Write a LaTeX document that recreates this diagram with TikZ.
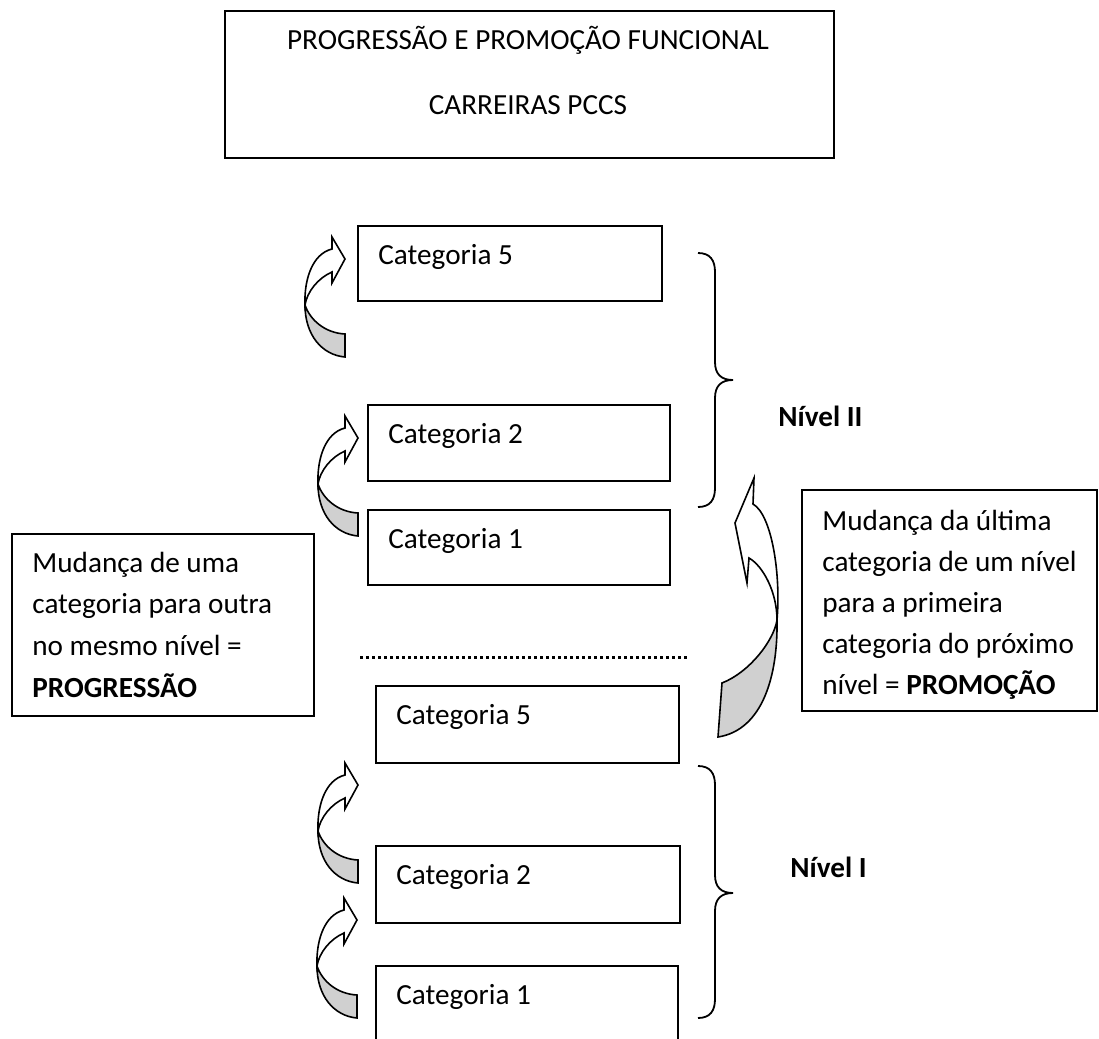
\documentclass[tikz,border=0pt]{standalone}
\usepackage{fontspec}
\setmainfont{Carlito}
\definecolor{shade}{RGB}{208,208,208}
\newcommand\fs{\fontsize{14.6pt}{17pt}\selectfont}
\newcommand\progarrow[1]{%
\begin{scope}[shift={#1}]
 \filldraw[arrowline, fill=shade] (-40,46) .. controls (-40,76) and (-23,96) .. (0,98) -- (0,75) .. controls (-20,74) and (-35,61) .. (-40,46) -- cycle;
 \filldraw[arrowline, fill=white] (-40,46) .. controls (-41,21) and (-33,-5) .. (-13,-10) -- (-13,-22) -- (0,0) -- (-13,24) -- (-13,13) .. controls (-27,19) and (-38,33) .. (-40,46) -- cycle;
\end{scope}}
\begin{document}
\begin{tikzpicture}[x=0.5pt,y=-0.5pt,
  box/.style={draw, line width=0.9pt, inner sep=0pt, anchor=north west},
  txt/.style={inner sep=0pt, anchor=base west, font=\fs},
  ctxt/.style={inner sep=0pt, anchor=base, font=\fs},
  arrowline/.style={line width=0.8pt, line join=miter},
  brace/.style={line width=0.9pt}]
\useasboundingbox (0,0) rectangle (1099,1039);
\fill[white] (0,0) rectangle (1099,1039);

% title
\node[box, minimum width=304.5pt, minimum height=73.5pt] (title) at (224,10) {};
\node[ctxt] (title1) at (528,49) {PROGRESSÃO E PROMOÇÃO FUNCIONAL};
\node[ctxt] (title2) at (528,114) {CARREIRAS PCCS};

% level II categories
\node[box, minimum width=152pt, minimum height=37.5pt] (c5a) at (357,225) {};
\node[txt] (t5a) at (378,264) {Categoria 5};
\node[box, minimum width=151pt, minimum height=38pt] (c2a) at (367,404) {};
\node[txt] (t2a) at (388,443) {Categoria 2};
\node[box, minimum width=151pt, minimum height=37.5pt] (c1a) at (367,509) {};
\node[txt] (t1a) at (388,548) {Categoria 1};

% level I categories
\node[box, minimum width=151.5pt, minimum height=38.5pt] (c5b) at (375,685) {};
\node[txt] (t5b) at (396,724) {Categoria 5};
\node[box, minimum width=152pt, minimum height=38.5pt] (c2b) at (375,845) {};
\node[txt] (t2b) at (396,884) {Categoria 2};
\node[box, minimum width=151pt, minimum height=60pt] (c1b) at (375,965) {};
\node[txt] (t1b) at (396,1004) {Categoria 1};

% dotted separator
\coordinate (d1) at (360,657);
\coordinate (d2) at (690,657);
\draw[line width=1.5pt, dash pattern=on 1.5pt off 1.5pt] (d1) -- (d2);

% left explanation box
\node[box, minimum width=151pt, minimum height=91pt] (lbox) at (11,533) {};
\node[txt] (l1) at (32,572) {Mudança de uma};
\node[txt] (l2) at (32,613) {categoria para outra};
\node[txt] (l3) at (32,655) {no mesmo nível =};
\node[txt] (l4) at (32,697) {\bfseries PROGRESSÃO};

% right explanation box
\node[box, minimum width=147.5pt, minimum height=110.5pt] (rbox) at (801,489) {};
\node[txt] (r1) at (822,530) {Mudança da última};
\node[txt] (r2) at (822,571) {categoria de um nível};
\node[txt] (r3) at (822,612) {para a primeira};
\node[txt] (r4) at (822,653) {categoria do próximo};
\node[txt] (r5) at (822,694) {nível = \textbf{PROMOÇÃO}};

% braces
\draw[brace] (698,253) .. controls (710,253) and (715,260) .. (715,272) -- (715,362)
  .. controls (715,374) and (721,380) .. (733,380)
  .. controls (721,380) and (715,386) .. (715,398) -- (715,488)
  .. controls (715,500) and (710,507) .. (698,507);
\draw[brace] (698,766) .. controls (710,766) and (715,773) .. (715,785) -- (715,875)
  .. controls (715,887) and (721,893) .. (733,893)
  .. controls (721,893) and (715,899) .. (715,911) -- (715,999)
  .. controls (715,1011) and (710,1018) .. (698,1018);
\node[txt] (n2) at (778,426) {\bfseries Nível II};
\node[txt] (n1) at (790,877) {\bfseries Nível I};

% progression arrows
\progarrow{(345,259)}
\progarrow{(358,438)}
\progarrow{(358,785)}
\progarrow{(357,920)}

% promotion arrow
\filldraw[arrowline, fill=shade] (777,620) .. controls (778,675) and (763,730) .. (718,737)
  -- (722,683) .. controls (750,672) and (774,640) .. (777,620) -- cycle;
\filldraw[arrowline, fill=white] (777,620) .. controls (781,575) and (772,515) .. (753,504)
  -- (754,478) -- (735,523) -- (747,583) -- (749,558)
  .. controls (763,566) and (777,592) .. (777,620) -- cycle;
\end{tikzpicture}
\end{document}
